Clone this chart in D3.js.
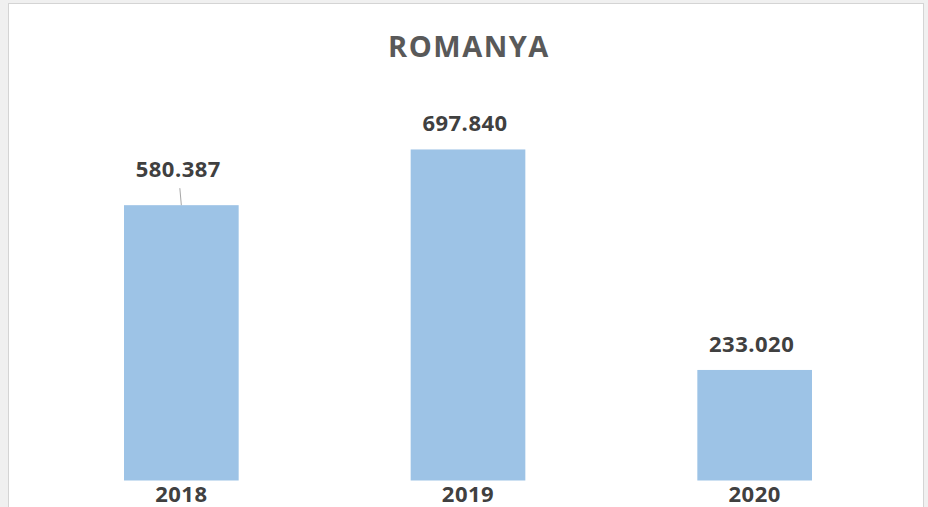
<!DOCTYPE html>
<html>
<head>
<meta charset="utf-8">
<script src="https://cdn.jsdelivr.net/npm/d3@7"></script>
<style>
  html, body { margin: 0; padding: 0; background: #f0f0f0; }
  #chart { width: 928px; height: 507px; }
  text { font-family: "Open Sans", "Noto Sans", sans-serif; font-weight: bold; }
</style>
</head>
<body>
<div id="chart"></div>
<script>
const years = ["2018", "2019", "2020"];
const values = [580387, 697840, 233020];
const labels = ["580.387", "697.840", "233.020"];
// extra lift for labels that were dragged up in the original (with a leader line)
const labelLift = [10, 0, 0];

const W = 928, H = 507;
const svg = d3.select("#chart").append("svg")
    .attr("width", W)
    .attr("height", H);

// chart frame
svg.append("rect")
    .attr("x", 8.5).attr("y", 3.5)
    .attr("width", 915).attr("height", 520)
    .attr("fill", "#fff")
    .attr("stroke", "#d4d4d4");

const x = d3.scaleBand()
    .domain(years)
    .range([38, 898])
    .paddingInner(0.6)
    .paddingOuter(0.3);

const y = d3.scaleLinear()
    .domain([0, 800000])
    .range([480.5, 101]);

svg.append("text")
    .attr("x", 469)
    .attr("y", 57)
    .attr("text-anchor", "middle")
    .attr("font-size", 29)
    .attr("letter-spacing", 1.5)
    .attr("fill", "#595959")
    .text("ROMANYA");

svg.append("g")
    .selectAll("rect")
    .data(values)
    .join("rect")
    .attr("x", (d, i) => x(years[i]))
    .attr("y", d => y(d))
    .attr("width", x.bandwidth())
    .attr("height", d => y(0) - y(d))
    .attr("fill", "#9dc3e6");

// leader lines
svg.append("g")
    .selectAll("line")
    .data(values.map((v, i) => ({ v, i })).filter(d => labelLift[d.i] > 0))
    .join("line")
    .attr("x1", d => x(years[d.i]) + x.bandwidth() / 2 - 1.5)
    .attr("y1", d => y(d.v) - 17)
    .attr("x2", d => x(years[d.i]) + x.bandwidth() / 2)
    .attr("y2", d => y(d.v))
    .attr("stroke", "#a6a6a6")
    .attr("stroke-width", 1);

svg.append("g")
    .selectAll("text")
    .data(values)
    .join("text")
    .attr("x", (d, i) => x(years[i]) + x.bandwidth() / 2 - 3)
    .attr("y", (d, i) => y(d) - 18 - labelLift[i])
    .attr("text-anchor", "middle")
    .attr("font-size", 22)
    .attr("letter-spacing", 0.5)
    .attr("fill", "#404040")
    .text((d, i) => labels[i]);

const xAxis = svg.append("g")
    .attr("transform", `translate(0,${y(0)})`)
    .call(d3.axisBottom(x).tickSize(0).tickPadding(1));
xAxis.select(".domain").remove();
xAxis.selectAll("text")
    .attr("font-size", 22)
    .attr("letter-spacing", 0.5)
    .attr("fill", "#404040")
    .attr("dy", "0.92em")
    .style("font-family", "\"Open Sans\", \"Noto Sans\", sans-serif")
    .style("font-weight", "bold");
</script>
</body>
</html>
